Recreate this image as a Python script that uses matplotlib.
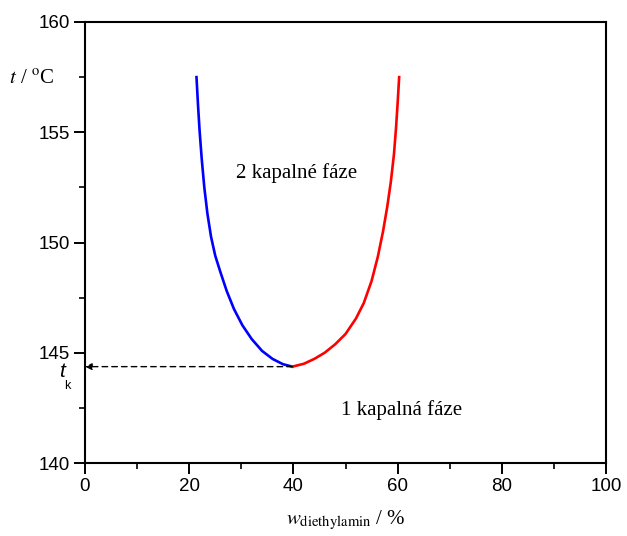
import numpy as np
import matplotlib.pyplot as plt
from matplotlib.ticker import MultipleLocator

# binodala diethylamin - voda
w_left = [21.4, 21.7, 22.0, 22.4, 22.9, 23.5, 24.2, 25.0, 26.0, 27.2, 28.6, 30.2, 32.0,
          34.0, 36.0, 38.0, 39.8]
t_left = [157.5, 156.2, 155.05, 153.8, 152.5, 151.3, 150.25, 149.4, 148.65, 147.8, 146.98,
          146.25, 145.62, 145.08, 144.72, 144.48, 144.37]
w_right = [39.8, 42.0, 44.0, 46.0, 48.0, 50.0, 52.0, 53.5, 55.0, 56.2, 57.2, 58.0, 58.7,
           59.3, 59.7, 60.0, 60.3]
t_right = [144.37, 144.5, 144.72, 145.0, 145.38, 145.85, 146.55, 147.25, 148.25, 149.35,
           150.5, 151.6, 152.75, 154.0, 155.2, 156.3, 157.5]
w_crit = 39.8
t_crit = 144.37

plt.rcParams['mathtext.fontset'] = 'stix'
serif = 'Liberation Serif'
sans = 'Liberation Sans'

fig = plt.figure(figsize=(6.27, 5.36), dpi=100)
ax = fig.add_axes([85 / 627, 1 - 463 / 536, 521 / 627, 441 / 536])

ax.plot(w_left, t_left, color='blue', lw=1.9, solid_joinstyle='round')
ax.plot(w_right, t_right, color='red', lw=1.9, solid_joinstyle='round')

# kritický bod - šipka k ose
ax.annotate('', xy=(0, t_crit), xytext=(w_crit, t_crit),
            arrowprops=dict(arrowstyle='-|>', linestyle=(0, (4, 3)), color='black',
                            lw=1.0, mutation_scale=10, shrinkA=0, shrinkB=0))

ax.set_xlim(0, 100)
ax.set_ylim(140, 160)
ax.xaxis.set_major_locator(MultipleLocator(20))
ax.xaxis.set_minor_locator(MultipleLocator(10))
ax.yaxis.set_major_locator(MultipleLocator(5))
ax.yaxis.set_minor_locator(MultipleLocator(2.5))
ax.tick_params(which='major', direction='out', length=8, width=1.4, labelsize=13.5, pad=3)
ax.tick_params(which='minor', direction='out', length=4, width=1.2)
for lab in ax.get_xticklabels() + ax.get_yticklabels():
    lab.set_fontfamily(sans)
for s in ax.spines.values():
    s.set_linewidth(1.5)

ax.text(40.7, 153.15, '2 kapalné fáze', fontsize=15, family=serif, ha='center', va='center')
ax.text(60.7, 142.4, '1 kapalná fáze', fontsize=15, family=serif, ha='center', va='center')

ax.text(-10.2, 157.4, r'$t$ / $^{\mathrm{o}}$C', fontsize=15, family=serif,
        ha='center', va='center', clip_on=False)
ax.text(-4.5, 144.15, 't', fontsize=15, family=sans, style='italic',
        ha='center', va='center', clip_on=False)
ax.text(-3.4, 143.5, 'k', fontsize=9, family=sans, ha='center', va='center', clip_on=False)

ax.set_xlabel(r'$w_{\mathrm{diethylamin}}$ / %', fontsize=15, family=serif, labelpad=10)

fig.savefig('out.png', dpi=100)
